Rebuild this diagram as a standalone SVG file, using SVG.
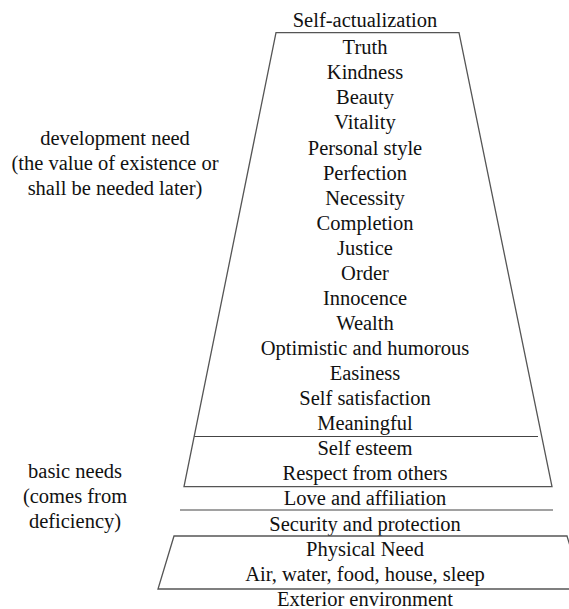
<svg xmlns="http://www.w3.org/2000/svg" width="569" height="609" viewBox="0 0 569 609" font-family="Liberation Serif, Tinos, Times New Roman, DejaVu Serif, serif">
<style>
text{font-family:'Liberation Serif',Tinos,'Times New Roman','DejaVu Serif',serif;font-size:20.5px;fill:#111;text-anchor:middle}
.shape{fill:none;stroke:#555;stroke-width:1.3}
.rule{stroke:#444;stroke-width:1.2}
</style>
<rect width="569" height="609" fill="#fff"/>
<g id="connectors">
<line class="rule" x1="194" y1="436.5" x2="538" y2="436.5"/>
<line class="rule" x1="180" y1="510" x2="553" y2="510"/>
</g>
<g id="self-actualization-label"><text x="365" y="27">Self-actualization</text></g>
<g id="development-needs">
<polygon class="shape" points="276,32.7 459,32.7 552,486.7 184,486.7"/>
<text x="365" y="54">Truth</text>
<text x="365" y="79">Kindness</text>
<text x="365" y="104">Beauty</text>
<text x="365" y="129">Vitality</text>
<text x="365" y="154.5">Personal style</text>
<text x="365" y="179.5">Perfection</text>
<text x="365" y="204.5">Necessity</text>
<text x="365" y="229.5">Completion</text>
<text x="365" y="254.5">Justice</text>
<text x="365" y="279.5">Order</text>
<text x="365" y="304.5">Innocence</text>
<text x="365" y="329.5">Wealth</text>
<text x="365" y="355">Optimistic and humorous</text>
<text x="365" y="380">Easiness</text>
<text x="365" y="405">Self satisfaction</text>
<text x="365" y="430">Meaningful</text>
</g>
<g id="esteem">
<text x="365" y="455">Self esteem</text>
<text x="365" y="480">Respect from others</text>
</g>
<g id="love"><text x="365" y="505">Love and affiliation</text></g>
<g id="security"><text x="365" y="530.5">Security and protection</text></g>
<g id="physical">
<polygon class="shape" points="174,536 567,536 583,589 158,589"/>
<text x="365" y="555.5">Physical Need</text>
<text x="365" y="580.5">Air, water, food, house, sleep</text>
</g>
<g id="exterior"><text x="365" y="606">Exterior environment</text></g>
<g id="development-label">
<text x="115" y="145">development need</text>
<text x="115" y="170">(the value of existence or</text>
<text x="115" y="195">shall be needed later)</text>
</g>
<g id="basic-label">
<text x="75" y="478">basic needs</text>
<text x="75" y="503">(comes from</text>
<text x="75" y="528">deficiency)</text>
</g>
</svg>
